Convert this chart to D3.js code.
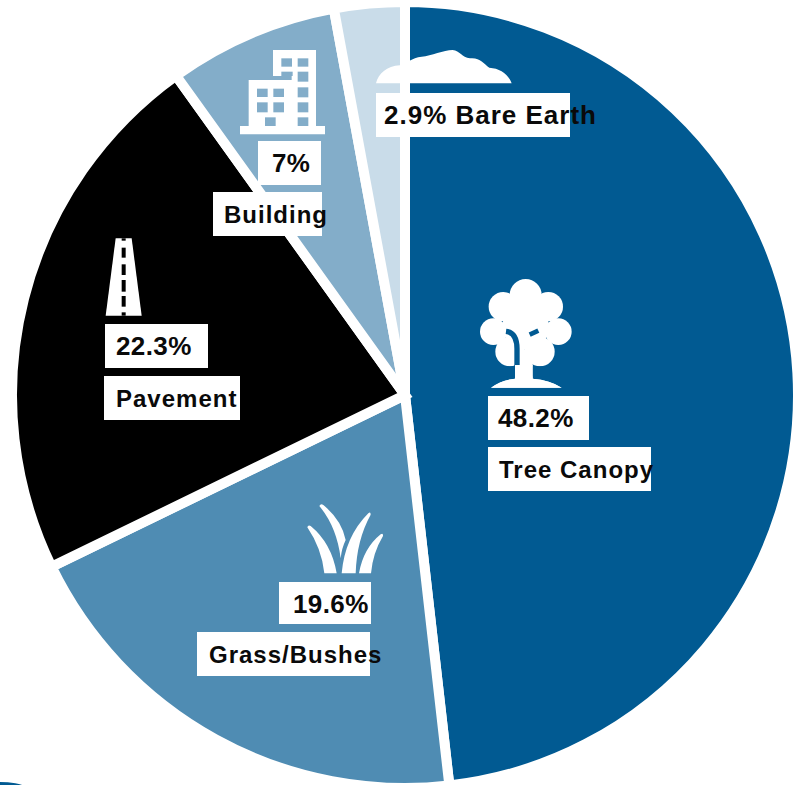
<!DOCTYPE html>
<html><head><meta charset="utf-8">
<script src="https://d3js.org/d3.v7.min.js"></script>
<style>html,body{margin:0;padding:0;background:#fff;overflow:hidden}svg{display:block}</style>
</head><body><svg id="c" width="802" height="785"></svg>
<script>
const categories = ["Tree Canopy","Grass/Bushes","Pavement","Building","Bare Earth"];
const shares = [48.2,19.6,22.3,7,2.9];
const shareLabels = ["48.2%","19.6%","22.3%","7%","2.9%"];
const colors = ["#015A92","#4F8CB3","#000000","#83ADC9","#C9DCE9"];

const svg = d3.select("#c");
const cx=405, cy=395, R=390;
const pie = d3.pie().sort(null).value(d=>d);
const arc = d3.arc().innerRadius(0).outerRadius(R+3);

// stray edge of a neighbouring element at the bottom-left
svg.append("ellipse").attr("cx",0).attr("cy",800).attr("rx",40).attr("ry",18).attr("fill","#015A92");

svg.append("g").attr("transform",`translate(${cx},${cy})`)
  .selectAll("path").data(pie(shares)).join("path")
  .attr("d",arc).attr("fill",(d,i)=>colors[i])
  .attr("stroke","#fff").attr("stroke-width",10).attr("stroke-linejoin","miter");

// icons, drawn in 3x units
const W="#fff";
function icon(x,y){return svg.append("g").attr("transform",`translate(${x},${y}) scale(${1/3})`);}

// tree
{const g=icon(460,270), blue=colors[0];
 [[197,75,48],[130,110,44],[265,110,44],[100,185,40],[295,185,40],[150,245,44],[240,245,44],[197,170,70]]
  .forEach(c=>g.append("circle").attr("cx",c[0]).attr("cy",c[1]).attr("r",c[2]).attr("fill",W));
 g.append("path").attr("fill",W).attr("d","M165,240H218V326Q270,330 305,353H93Q125,330 165,326Z");
 g.append("path").attr("fill","none").attr("stroke",blue).attr("stroke-width",16)
  .attr("d","M138,184Q172,188 171,240V288");
 g.append("path").attr("fill","none").attr("stroke",blue).attr("stroke-width",14)
  .attr("d","M209,194L235,182");
 g.append("rect").attr("x",120).attr("y",289).attr("width",45).attr("height",30).attr("fill",blue);
 g.append("rect").attr("x",218).attr("y",289).attr("width",50).attr("height",30).attr("fill",blue);
 g.append("path").attr("fill",W).attr("d","M165,285H218V326Q270,330 305,353H93Q125,330 165,326Z");
}
// cloud
icon(200,0).append("path").attr("fill",W)
 .attr("d","M528,250C535,222 560,197 600,196C620,192 635,172 665,170C695,168 730,150 758,150C780,152 785,172 810,175C840,172 850,190 868,203C900,205 925,222 935,250Z");
// building
{const g=icon(200,0), b=colors[3];
 g.append("path").attr("fill",W).attr("d","M219,150H348V378H375V403H120V378H146V240H275V228H219Z");
 [[244,175,32,25],[293,175,32,25],[244,215,34,13],[293,215,32,30],[293,262,32,30],[293,307,32,30],[293,352,32,26],
  [171,266,32,25],[220,266,32,25],[171,307,32,30],[220,307,32,30],[195,352,32,26]]
 .forEach(r=>g.append("rect").attr("x",r[0]).attr("y",r[1]).attr("width",r[2]).attr("height",r[3]).attr("fill",b));
}
// road
{const g=icon(90,225);
 g.append("path").attr("fill",W).attr("d","M77,40H125L155,272H47Z");
 [[40,7],[68,30],[118,32],[165,35],[213,32],[262,10]]
 .forEach(r=>g.append("rect").attr("x",95).attr("y",r[0]).attr("width",12).attr("height",r[1]).attr("fill","#000"));
}
// grass
icon(190,490).append("path").attr("fill",W).attr("d",
 "M352,112Q354,104 362,108Q425,160 440,250H403Q395,175 352,112Z"+
 "M388,48Q392,40 400,45Q455,90 467,150Q455,175 452,205Q440,110 388,48Z"+
 "M535,70Q542,64 542,74Q500,150 497,250H455Q465,140 535,70Z"+
 "M572,133Q580,128 579,138Q548,190 543,250H507Q520,175 572,133Z");

// labels
const boxes=[
 [[488,396,101,44,498,427],[488,447,163,44,499,478]],
 [[279,582,92,42,293,613],[197,632,173,44,209,663]],
 [[105,324,103,44,116,355],[104,376,136,44,116,407]],
 [[258,141,63,44,272,172],[213,192,109,44,224,223]],
 [[376,93,194,44,384,124]]
];
const texts=[0,1,2,3].map(i=>[shareLabels[i],categories[i]]);
texts.push([shareLabels[4]+" "+categories[4]]);
boxes.forEach((set,i)=>set.forEach((b,j)=>{
  svg.append("rect").attr("x",b[0]).attr("y",b[1]).attr("width",b[2]).attr("height",b[3]).attr("fill",W);
  const isShare = j===0 && i<4;
  svg.append("text").attr("x",b[4]).attr("y",b[5]).text(texts[i][j])
   .attr("fill","#0a0a0a").attr("font-family","'Liberation Sans Narrow','Liberation Sans',sans-serif")
   .attr("font-weight","bold").attr("font-size",isShare?26:(i===4?26:24)).attr("letter-spacing",isShare?0.4:1);
}));
</script></body></html>
